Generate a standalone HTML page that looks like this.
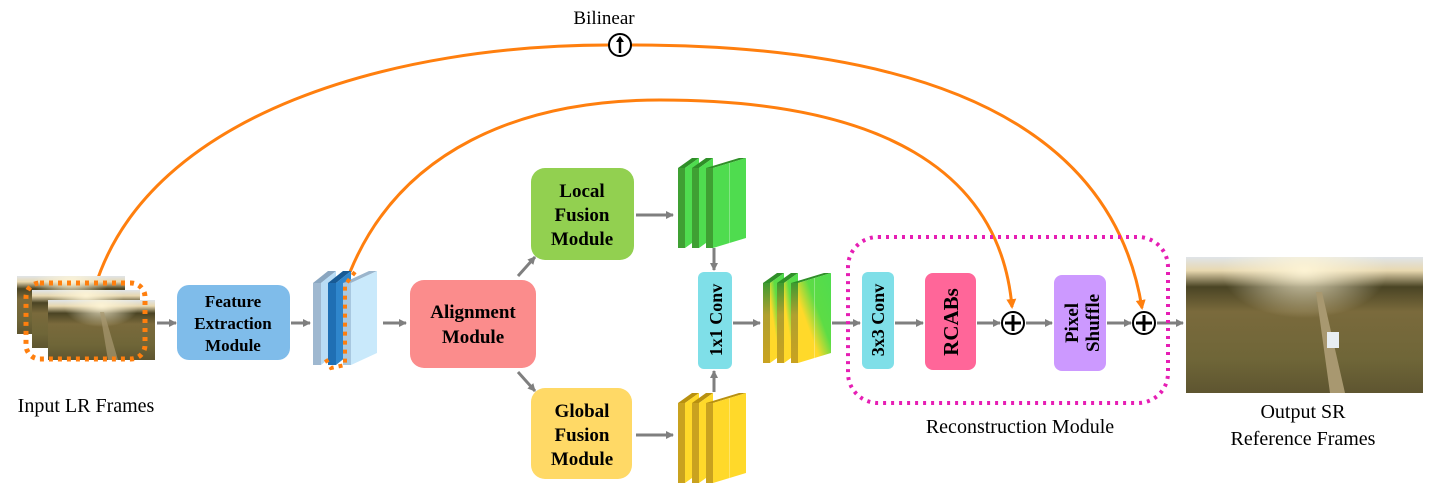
<!DOCTYPE html>
<html><head><meta charset="utf-8"><style>
html,body{margin:0;padding:0;background:#fff;}
svg{display:block;}
text,tspan{font-family:"Liberation Serif","DejaVu Serif",serif;}
</style></head><body>
<svg id="s" width="1431" height="494" viewBox="0 0 1431 494" xmlns="http://www.w3.org/2000/svg" font-family="Liberation Serif, DejaVu Serif, serif">
<defs>
<marker id="ag" markerWidth="8" markerHeight="8" refX="7" refY="4" orient="auto" markerUnits="userSpaceOnUse"><path d="M0,0 L8,4 L0,8 z" fill="#7f7f7f"/></marker>
<marker id="ao" markerWidth="10" markerHeight="10" refX="8" refY="5" orient="auto" markerUnits="userSpaceOnUse"><path d="M0,0 L10,5 L0,10 z" fill="#ff7f0e"/></marker>
<linearGradient id="img" x1="0" y1="0" x2="0" y2="1">
<stop offset="0" stop-color="#dfe4e8"/><stop offset="0.1" stop-color="#e8d8b0"/><stop offset="0.22" stop-color="#4a4424"/><stop offset="0.4" stop-color="#7a6a3c"/><stop offset="0.75" stop-color="#6f6638"/><stop offset="1" stop-color="#5e5530"/></linearGradient>
<radialGradient id="sun" cx="0.5" cy="0.1" r="0.35"><stop offset="0" stop-color="#fff6d8" stop-opacity="0.9"/><stop offset="1" stop-color="#fff6d8" stop-opacity="0"/></radialGradient>
<linearGradient id="mix" x1="1" y1="0" x2="0" y2="1"><stop offset="0" stop-color="#4fdc4f"/><stop offset="0.4" stop-color="#5ddc45"/><stop offset="0.65" stop-color="#ffd92a"/><stop offset="1" stop-color="#ffd92a"/></linearGradient>
<linearGradient id="mixd" x1="0" y1="0" x2="0" y2="1"><stop offset="0" stop-color="#3f9a30"/><stop offset="0.4" stop-color="#b0a030"/><stop offset="1" stop-color="#c9a21f"/></linearGradient>
</defs>
<g id="g"></g>
</svg>
<script>
var g=document.getElementById('g');var h='';
function add(s){h+=s;}
var F=' font-family="Liberation Serif, DejaVu Serif, serif"';
add('<path d="M95,287 C150,110 400,45 609,45" fill="none" stroke="#ff7f0e" stroke-width="3"/>');
add('<path d="M631,45 C900,45 1110,110 1142,308" fill="none" stroke="#ff7f0e" stroke-width="3" marker-end="url(#ao)"/>');
add('<path d="M350,272 C400,150 520,100 660,100 C880,100 1000,170 1012,307" fill="none" stroke="#ff7f0e" stroke-width="3" marker-end="url(#ao)"/>');
add('<circle cx="620" cy="45" r="11" fill="#fff" stroke="#000" stroke-width="2"/><line x1="620" y1="53" x2="620" y2="39" stroke="#000" stroke-width="2.5"/><path d="M616,42 L620,36 L624,42z" fill="#000"/>');
add('<text'+F+' x="604" y="24" font-size="19" text-anchor="middle">Bilinear</text>');
function img(x,y,w,hh){add('<rect x="'+x+'" y="'+y+'" width="'+w+'" height="'+hh+'" fill="url(#img)"/><rect x="'+x+'" y="'+y+'" width="'+w+'" height="'+hh+'" fill="url(#sun)"/>');}
img(17,276,108,58);img(32,290,108,58);img(48,300,107,60);
add('<polygon points="100,312 104,312 118,360 108,360" fill="#a89870" opacity="0.7"/>');
add('<rect x="26" y="283" width="119" height="76" rx="14" fill="none" stroke="#ff7f0e" stroke-width="5" stroke-dasharray="4,5"/>');
add('<text'+F+' x="86" y="412" font-size="20" text-anchor="middle">Input LR Frames</text>');
function ar(x1,y1,x2,y2){add('<line x1="'+x1+'" y1="'+y1+'" x2="'+x2+'" y2="'+y2+'" stroke="#7f7f7f" stroke-width="3" marker-end="url(#ag)"/>');}
ar(157,323,176,323);ar(291,323,310,323);ar(383,323,406,323);
ar(518,276,535,257);ar(518,372,535,391);
ar(636,215,673,215);ar(636,435,673,435);
ar(714,248,714,270);ar(714,392,714,371);
ar(733,323,760,323);ar(832,323,860,323);ar(895,323,923,323);ar(977,323,1000,323);
ar(1026,323,1052,323);ar(1107,323,1131,323);ar(1157,323,1183,323);
function box(x,y,w,hh,c,rx){add('<rect x="'+x+'" y="'+y+'" width="'+w+'" height="'+hh+'" rx="'+(rx||12)+'" fill="'+c+'"/>');}
box(177,285,113,75,'#7fbcea');
add('<text'+F+' font-size="17" font-weight="bold" text-anchor="middle"><tspan x="233" y="307">Feature</tspan><tspan x="233" y="329">Extraction</tspan><tspan x="233" y="351">Module</tspan></text>');
box(410,280,126,88,'#fb8c8c',14);
add('<text'+F+' font-size="19" font-weight="bold" text-anchor="middle"><tspan x="473" y="318">Alignment</tspan><tspan x="473" y="343">Module</tspan></text>');
box(531,168,103,92,'#92d050',14);
add('<text'+F+' font-size="19" font-weight="bold" text-anchor="middle"><tspan x="582" y="197">Local</tspan><tspan x="582" y="221">Fusion</tspan><tspan x="582" y="245">Module</tspan></text>');
box(531,388,101,91,'#ffd966',14);
add('<text'+F+' font-size="19" font-weight="bold" text-anchor="middle"><tspan x="582" y="417">Global</tspan><tspan x="582" y="441">Fusion</tspan><tspan x="582" y="465">Module</tspan></text>');
box(698,272,34,97,'#7fdfe8',6);
add('<text'+F+' transform="translate(722,320) rotate(-90)" font-size="18" font-weight="bold" text-anchor="middle">1x1 Conv</text>');
box(862,272,32,97,'#7fdfe8',6);
add('<text'+F+' transform="translate(884,320) rotate(-90)" font-size="18" font-weight="bold" text-anchor="middle">3x3 Conv</text>');
box(925,273,51,97,'#ff6699',8);
add('<text'+F+' transform="translate(958,322) rotate(-90)" font-size="21" font-weight="bold" text-anchor="middle">RCABs</text>');
box(1054,275,52,96,'#cc99ff',8);
add('<text'+F+' transform="translate(1078,323) rotate(-90)" font-size="19" font-weight="bold" text-anchor="middle">Pixel</text><text'+F+' transform="translate(1099,323) rotate(-90)" font-size="19" font-weight="bold" text-anchor="middle">Shuffle</text>');
function plus(cx,cy){add('<circle cx="'+cx+'" cy="'+cy+'" r="11" fill="#fff" stroke="#000" stroke-width="2"/><line x1="'+(cx-8)+'" y1="'+cy+'" x2="'+(cx+8)+'" y2="'+cy+'" stroke="#000" stroke-width="3"/><line x1="'+cx+'" y1="'+(cy-8)+'" x2="'+cx+'" y2="'+(cy+8)+'" stroke="#000" stroke-width="3"/>');}
plus(1013,323);plus(1144,323);
add('<rect x="848" y="237" width="320" height="166" rx="30" fill="none" stroke="#e61eb4" stroke-width="4" stroke-dasharray="3,5"/>');
add('<text'+F+' x="1020" y="433" font-size="20" text-anchor="middle">Reconstruction Module</text>');
function stack(x0,ytop,hh,fronts,sides,tops,last){
 for(var i=0;i<3;i++){
  var x=x0+i*14,y=ytop+10,w=7,d=(i==2?last:14),dy=10;
  add('<polygon points="'+x+','+y+' '+(x+d)+','+(y-dy)+' '+(x+d+w)+','+(y-dy)+' '+(x+w)+','+y+'" fill="'+tops+'"/>');
  add('<polygon points="'+(x+w)+','+y+' '+(x+w+d)+','+(y-dy)+' '+(x+w+d)+','+(y-dy+hh)+' '+(x+w)+','+(y+hh)+'" fill="'+sides+'"/>');
  add('<rect x="'+x+'" y="'+y+'" width="'+w+'" height="'+hh+'" fill="'+fronts+'"/>');
  if(i==2){add('<line x1="'+(x+w+d/2)+'" y1="'+(y-dy/2)+'" x2="'+(x+w+d/2)+'" y2="'+(y+hh-dy/2)+'" stroke="#fff" stroke-opacity="0.3"/>');}
 }
}
stack(678,158,80,'#3fa033','#4fdc4f','#2f8f28',33);
stack(678,393,80,'#c9a21f','#ffd92a','#b8900f',33);
stack(763,273,80,'url(#mixd)','url(#mix)','#2f8f28',33);
(function(){var x0=313,yt=283,hh=82;
 var cs=[['#9fb8d0','#b9dcf5','#8aa6c0'],['#1f6fb4','#2f86cc','#185a95'],['#a8c8e0','#c9e9fb','#9bb5cc']];
 for(var i=0;i<3;i++){var x=x0+i*15,y=yt,w=8,d=(i==2?26:15),dy=12;
  add('<polygon points="'+x+','+y+' '+(x+d)+','+(y-dy)+' '+(x+d+w)+','+(y-dy)+' '+(x+w)+','+y+'" fill="'+cs[i][2]+'"/>');
  add('<polygon points="'+(x+w)+','+y+' '+(x+w+d)+','+(y-dy)+' '+(x+w+d)+','+(y-dy+hh)+' '+(x+w)+','+(y+hh)+'" fill="'+cs[i][1]+'"/>');
  add('<rect x="'+x+'" y="'+y+'" width="'+w+'" height="'+hh+'" fill="'+cs[i][0]+'"/>');}
 add('<path d="M355,272 L345,285 L345,365 L331,368 L325,358" fill="none" stroke="#ff7f0e" stroke-width="4" stroke-dasharray="4,5"/>');
})();
img(1186,257,237,136);
add('<polygon points="1316,292 1322,292 1345,393 1330,393" fill="#a89870"/>');
add('<rect x="1327" y="332" width="12" height="16" fill="#e8eef2"/>');
add('<text'+F+' font-size="20" text-anchor="middle"><tspan x="1303" y="418">Output SR</tspan><tspan x="1303" y="445">Reference Frames</tspan></text>');
g.innerHTML=h;
</script>
</body></html>
